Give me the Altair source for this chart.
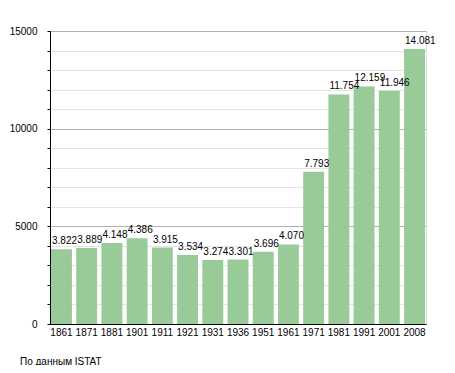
import altair as alt
import pandas as pd

years = ["1861", "1871", "1881", "1901", "1911", "1921", "1931", "1936",
         "1951", "1961", "1971", "1981", "1991", "2001", "2008"]
population = [3822, 3889, 4148, 4386, 3915, 3534, 3274, 3301,
              3696, 4070, 7793, 11754, 12159, 11946, 14081]
labels = ["3.822", "3.889", "4.148", "4.386", "3.915", "3.534", "3.274", "3.301",
          "3.696", "4.070", "7.793", "11.754", "12.159", "11.946", "14.081"]
source_note = "По данным  ISTAT"

df = pd.DataFrame({"year": years, "pop": population, "label": labels})

FONT = "Liberation Sans"
FS = 10

xscale = alt.Scale(paddingInner=0.17, paddingOuter=0.04)
yscale = alt.Scale(domain=[0, 15000], nice=False)

xaxis = alt.Axis(labelAngle=0, ticks=False, labelPadding=3,
                 domainColor="#000", labelFont=FONT, labelFontSize=FS,
                 labelColor="#000", grid=False, labelOverlap=False)
yaxis = alt.Axis(values=list(range(0, 15001, 1000)),
                 labelExpr="datum.value % 5000 === 0 ? datum.value : ''",
                 labelOverlap=False,
                 tickSize=3, tickColor="#000", domainColor="#000",
                 labelPadding=10, labelFont=FONT, labelFontSize=FS,
                 labelColor="#000", grid=True,
                 gridColor=alt.condition("datum.value % 5000 === 0",
                                         alt.value("#b0b0b0"),
                                         alt.value("#e4e4e4")))

bars = alt.Chart(df).mark_bar(color="#98CB98").encode(
    x=alt.X("year:N", sort=years, scale=xscale, title=None, axis=xaxis),
    y=alt.Y("pop:Q", scale=yscale, title=None, axis=yaxis),
)

text = alt.Chart(df).mark_text(align="left", baseline="bottom", dx=1, dy=-3,
                               font=FONT, fontSize=FS, color="#000").encode(
    x=alt.X("year:N", sort=years, scale=xscale, bandPosition=0, title=None, axis=xaxis),
    y=alt.Y("pop:Q", scale=yscale, title=None, axis=yaxis),
    text="label:N",
)

note = alt.Chart(pd.DataFrame({"t": [source_note]})).mark_text(
    align="left", baseline="middle", font=FONT, fontSize=FS, color="#000",
    clip=False).encode(
    x=alt.value(-30), y=alt.value(331), text="t:N")

chart = alt.layer(bars, text, note).properties(
    width=376, height=293,
    autosize=alt.AutoSizeParams(type="none"),
    padding={"left": 42, "top": 23, "right": 21, "bottom": 41},
).configure_view(stroke=None).configure(background="white")

chart.save("out.html", embed_options={"renderer": "svg", "actions": False})
